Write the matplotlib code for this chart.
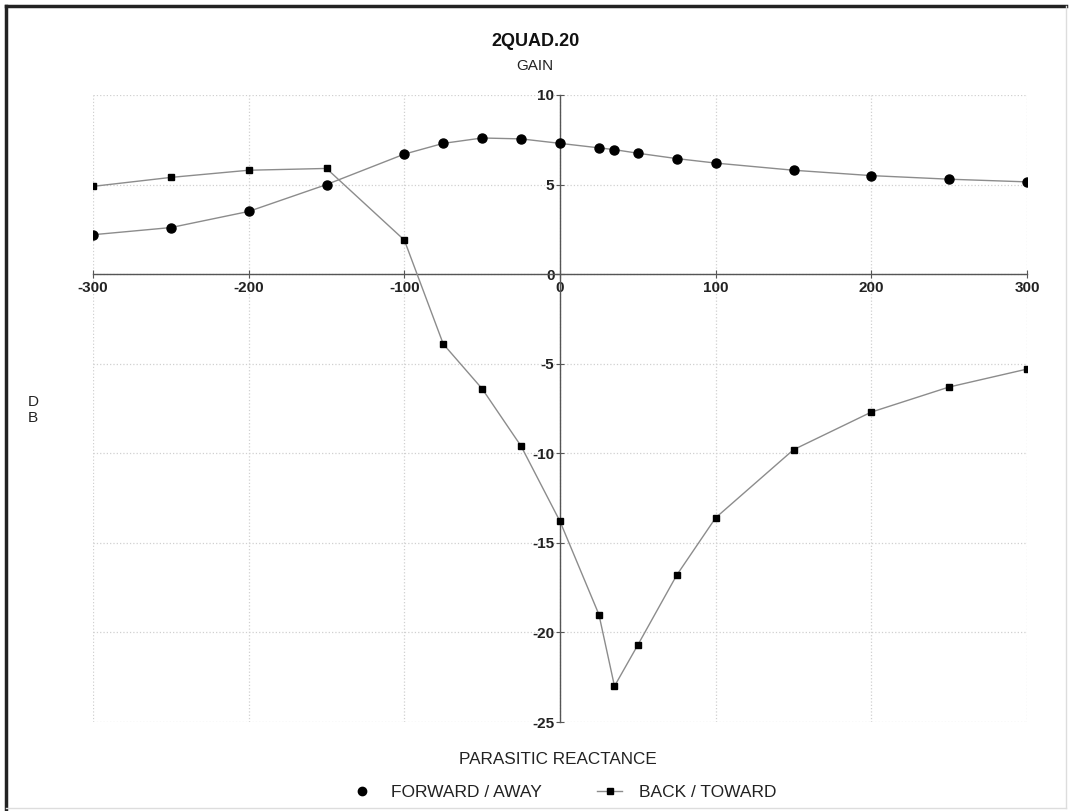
import numpy as np
import matplotlib.pyplot as plt
from matplotlib.lines import Line2D

plt.rcParams['font.family'] = ['Liberation Sans', 'DejaVu Sans']
plt.rcParams['axes.unicode_minus'] = False

# Data
reactance = [-300, -250, -200, -150, -100, -75, -50, -25, 0, 25, 35, 50, 75, 100, 150, 200, 250, 300]
forward = [2.2, 2.6, 3.5, 5.0, 6.7, 7.3, 7.6, 7.55, 7.3, 7.05, 6.95, 6.75, 6.45, 6.2, 5.8, 5.5, 5.3, 5.15]
back = [4.9, 5.4, 5.8, 5.9, 1.9, -3.9, -6.4, -9.6, -13.8, -19.0, -23.0, -20.7, -16.8, -13.6, -9.8, -7.7, -6.3, -5.3]

xticks = [-300, -200, -100, 0, 100, 200, 300]
yticks = [-25, -20, -15, -10, -5, 0, 5, 10]

W, H = 1071, 811
fig = plt.figure(figsize=(W/100, H/100), dpi=100)
ax = fig.add_axes([93/W, 1-722/H, (1027-93)/W, (722-95)/H])

line_col = '#8c8c8c'
ax.plot(reactance, forward, color=line_col, lw=1.0, marker='o', ms=6.5,
        mfc='black', mec='black', zorder=3)
ax.plot(reactance, back, color=line_col, lw=1.0, marker='s', ms=5,
        mfc='black', mec='black', zorder=3)

ax.set_xlim(-300, 300)
ax.set_ylim(-25, 10)
ax.set_xticks(xticks)
ax.set_yticks(yticks)

# axes cross at zero
ax.spines['left'].set_position(('data', 0))
ax.spines['bottom'].set_position(('data', 0))
ax.spines['top'].set_visible(False)
ax.spines['right'].set_visible(False)
for s in ['left', 'bottom']:
    ax.spines[s].set_color('#555555')
    ax.spines[s].set_linewidth(1.0)
ax.tick_params(direction='inout', length=6, width=0.8, color='#555555',
               labelsize=11, labelcolor='#222222')
ax.tick_params(axis='x', pad=2)
ax.tick_params(axis='y', pad=1)
for lab in ax.get_xticklabels() + ax.get_yticklabels():
    lab.set_fontweight('bold')

ax.grid(True, color='#d0d0d0', linestyle=':', linewidth=0.9)
ax.set_axisbelow(True)

# texts
fig.text(536/W, 1-42/H, '2QUAD.20', ha='center', va='center',
         fontsize=13, fontweight='bold', color='#111111')
fig.text(535/W, 1-66/H, 'GAIN', ha='center', va='center',
         fontsize=11, color='#222222')
fig.text(33/W, 1-410/H, 'D\nB', ha='center', va='center',
         fontsize=11, color='#222222', linespacing=1.1)
fig.text(558/W, 1-760/H, 'PARASITIC REACTANCE', ha='center', va='center',
         fontsize=12.3, color='#222222')

handles = [
    Line2D([], [], color=line_col, lw=0, marker='o', ms=6, mfc='black', mec='black'),
    Line2D([], [], color=line_col, lw=1, marker='s', ms=5, mfc='black', mec='black'),
]
fig.legend(handles, ['FORWARD / AWAY', 'BACK / TOWARD'], loc='center',
           bbox_to_anchor=(563/W, 1-792/H), ncol=2, frameon=False,
           fontsize=12.5, handlelength=1.4, handletextpad=1.0,
           columnspacing=3.2, labelcolor='#222222')

# frame around the whole picture
fig.add_artist(Line2D([6/W, 6/W], [0, 1-6/H], color='#222222', lw=2.5))
fig.add_artist(Line2D([6/W, 1066/W], [1-6/H, 1-6/H], color='#222222', lw=2.5))
fig.add_artist(Line2D([1066/W, 1066/W], [1-808/H, 1-6/H], color='#dddddd', lw=1))
fig.add_artist(Line2D([6/W, 1066/W], [1-808/H, 1-808/H], color='#dddddd', lw=1))

fig.savefig('out.png', dpi=100)
